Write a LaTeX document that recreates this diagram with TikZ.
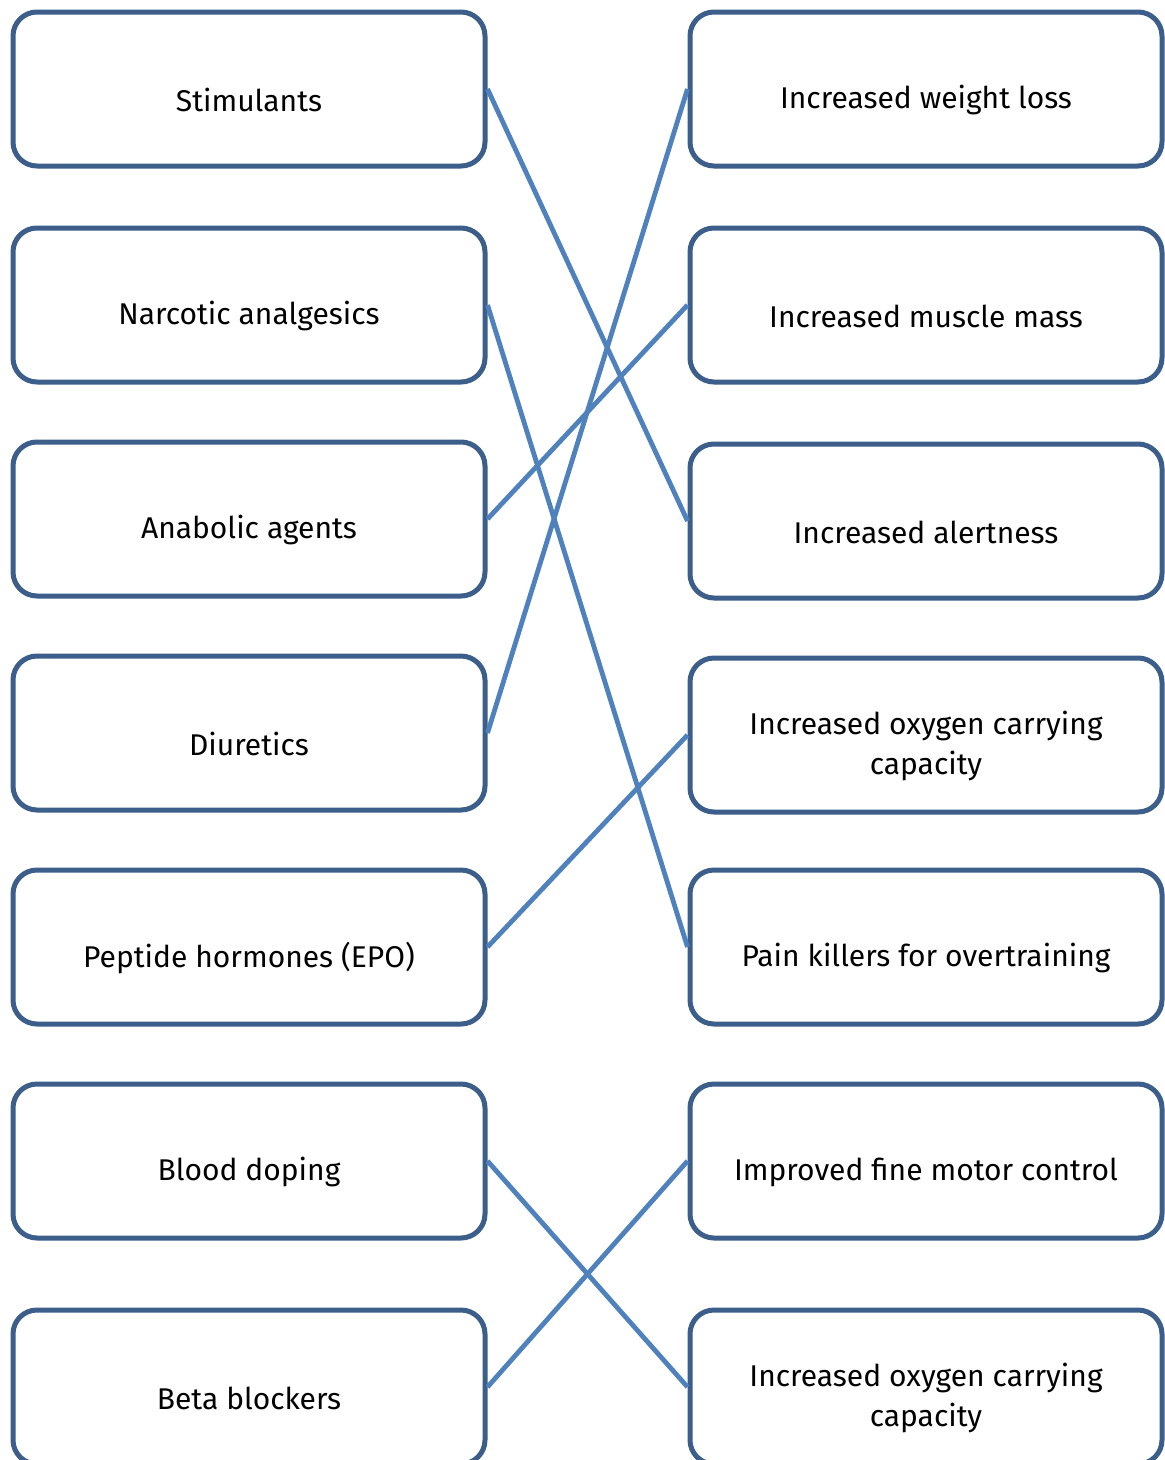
\documentclass[tikz,border=0pt]{standalone}
\usepackage{fontspec}
\setmainfont{Fira Sans}
\definecolor{boxblue}{RGB}{59,94,139}
\definecolor{lineblue}{RGB}{79,129,189}
\tikzset{
	drugbox/.style={draw=boxblue, line width=5pt, rounded corners=24pt,
		minimum width=472pt, minimum height=154pt, fill=white},
	boxtext/.style={align=center, font=\fontsize{30}{40}\selectfont, yshift=-11pt},
	link/.style={draw=lineblue, line width=4.8pt}
}
\begin{document}
\begin{tikzpicture}[x=1pt,y=-1pt]
	\useasboundingbox[fill=white] (0,0) rectangle (1165,1460);

	% substances
	\node[drugbox] (stim) at (249,89) {};
	\node[boxtext] (stimtxt) at (stim.center) {Stimulants};
	\node[drugbox] (narc) at (249,305) {};
	\node[boxtext] (narctxt) at (narc.center) {Narcotic analgesics};
	\node[drugbox] (anab) at (249,519) {};
	\node[boxtext] (anabtxt) at (anab.center) {Anabolic agents};
	\node[drugbox] (diur) at (249,733) {};
	\node[boxtext] (diurtxt) at (diur.center) {Diuretics};
	\node[drugbox] (pept) at (249,947) {};
	\node[boxtext] (pepttxt) at (pept.center) {Peptide hormones (EPO)};
	\node[drugbox] (blood) at (249,1161) {};
	\node[boxtext] (bloodtxt) at (blood.center) {Blood doping};
	\node[drugbox] (beta) at (249,1387) {};
	\node[boxtext] (betatxt) at (beta.center) {Beta blockers};

	% effects
	\node[drugbox] (weight) at (926,89) {};
	\node[boxtext] (weighttxt) at (weight.center) {Increased weight loss};
	\node[drugbox] (muscle) at (926,305) {};
	\node[boxtext] (muscletxt) at (muscle.center) {Increased muscle mass};
	\node[drugbox] (alert) at (926,521) {};
	\node[boxtext] (alerttxt) at (alert.center) {Increased alertness};
	\node[drugbox] (oxyA) at (926,735) {};
	\node[boxtext] (oxyAtxt) at (oxyA.center) {Increased oxygen carrying\\capacity};
	\node[drugbox] (pain) at (926,947) {};
	\node[boxtext] (paintxt) at (pain.center) {Pain killers for overtraining};
	\node[drugbox] (motor) at (926,1161) {};
	\node[boxtext] (motortxt) at (motor.center) {Improved fine motor control};
	\node[drugbox] (oxyB) at (926,1387) {};
	\node[boxtext] (oxyBtxt) at (oxyB.center) {Increased oxygen carrying\\capacity};

	% matches
	\draw[link] (stim.east) -- (alert.west);
	\draw[link] (narc.east) -- (pain.west);
	\draw[link] (anab.east) -- (muscle.west);
	\draw[link] (diur.east) -- (weight.west);
	\draw[link] (pept.east) -- (oxyA.west);
	\draw[link] (blood.east) -- (oxyB.west);
	\draw[link] (beta.east) -- (motor.west);
\end{tikzpicture}
\end{document}
